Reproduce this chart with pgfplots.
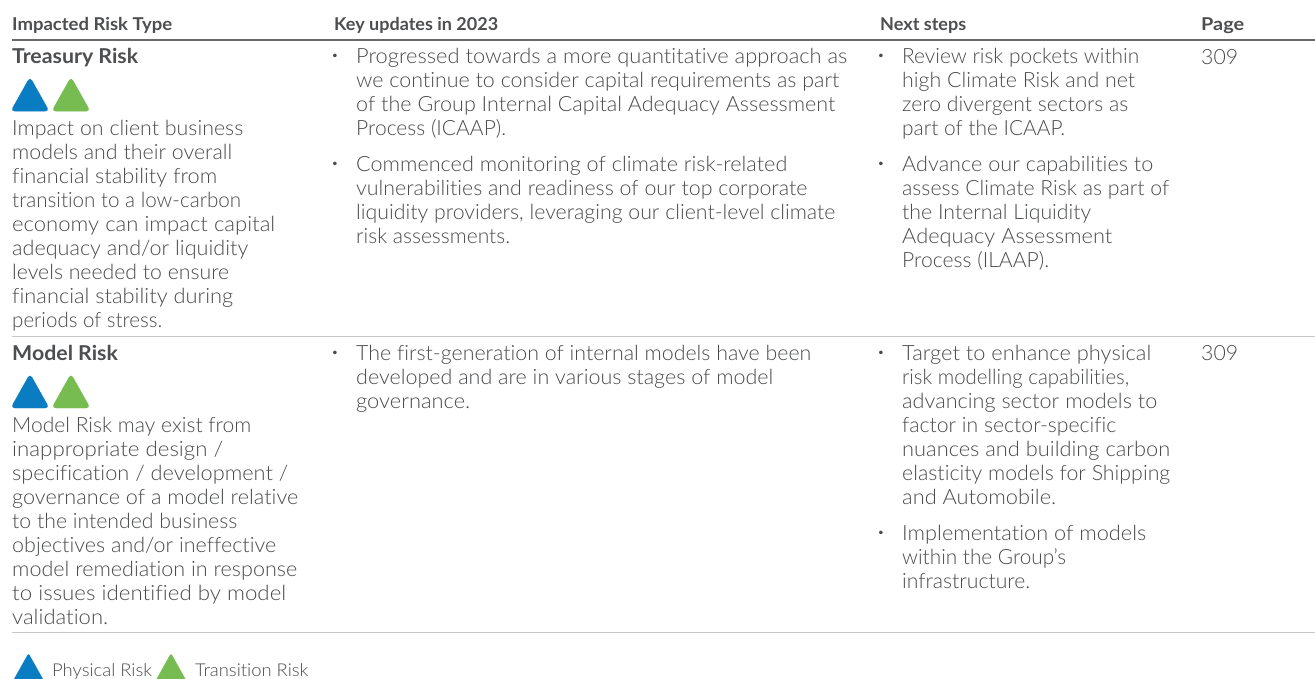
\documentclass[border=0pt]{standalone}
\usepackage{pgfplots}
\pgfplotsset{compat=1.18}
\usepackage{graphicx}
\usepackage{fontspec}
\setmainfont{Lato}[UprightFont=* Light, BoldFont=* Bold, FakeStretch=1.04, RawFeature=-liga]
\definecolor{body}{HTML}{4A4B4D}
\definecolor{head}{HTML}{4D4E50}
\definecolor{phys}{HTML}{0A7CC1}
\definecolor{trans}{HTML}{77BC50}
\newcommand\T[4]{\node[anchor=base west,inner sep=0pt,text=body,font=\fontsize{21}{24}\selectfont] at (axis cs:#1,#2) {\resizebox{\dimexpr #4pt-#1pt\relax}{\height}{#3}};}
\newcommand\HH[3]{\node[anchor=base west,inner sep=0pt,text=head,font=\fontsize{17.7}{20}\selectfont\bfseries] at (axis cs:#1,30.5) {\resizebox{\dimexpr #3pt-#1pt\relax}{\height}{#2}};}
\newcommand\BB[2]{\node[anchor=base west,inner sep=0pt,text=head,font=\fontsize{20.5}{24}\selectfont\bfseries] at (axis cs:12,#2) {#1};}
\newcommand\D[2]{\node[anchor=center,inner sep=0pt,text=body,font=\fontsize{12}{12}\selectfont] at (axis cs:#1,#2) {•};}
\newcommand\LL[2]{\node[anchor=base west,inner sep=0pt,text=body,font=\fontsize{17.7}{20}\selectfont] at (axis cs:#1,676) {#2};}
\begin{document}
\begin{tikzpicture}
\begin{axis}[scale only axis,width=1315pt,height=679pt,xmin=0,xmax=1315,ymin=0,ymax=679,y dir=reverse,
  axis lines=none,ticks=none,clip=true]
\addplot[draw=white,fill=white,forget plot] coordinates {(0,0)(1315,0)(1315,679)(0,679)} -- cycle;
\addplot[line width=2pt,color=head!85] coordinates {(12,40)(1315,40)};
\addplot[line width=1pt,color=black!22] coordinates {(12,336)(1315,336)};
\addplot[line width=1pt,color=black!22] coordinates {(12,632)(1315,632)};
% triangles
\addplot[phys,fill=phys,line width=0.3pt,rounded corners=4pt] coordinates {(30,111.2)(49.2,111.2)(30,77)(10.8,111.2)} -- cycle;
\addplot[trans,fill=trans,line width=0.3pt,rounded corners=4pt] coordinates {(71,111.2)(90.2,111.2)(71,77)(51.8,111.2)} -- cycle;
\addplot[phys,fill=phys,line width=0.3pt,rounded corners=4pt] coordinates {(30,408)(49.2,408)(30,373.8)(10.8,408)} -- cycle;
\addplot[trans,fill=trans,line width=0.3pt,rounded corners=4pt] coordinates {(71,408)(90.2,408)(71,373.8)(51.8,408)} -- cycle;
\addplot[phys,fill=phys,line width=0.3pt,rounded corners=2pt] coordinates {(28.5,692)(50,692)(28.5,653.5)(7,692)} -- cycle;
\addplot[trans,fill=trans,line width=0.3pt,rounded corners=2pt] coordinates {(171,692)(192.5,692)(171,653.5)(149.5,692)} -- cycle;
% header
\HH{12}{Impacted Risk Type}{172}
\HH{334}{Key updates in 2023}{498}
\HH{880}{Next steps}{966}
\HH{1201}{Page}{1244}
% row 1
\BB{Treasury Risk}{63.5}
\T{12}{135.5}{Impact on client business}{243}
\T{12}{159.5}{models and their overall}{232}
\T{12}{183.5}{financial stability from}{217}
\T{12}{207.5}{transition to a low-carbon}{241}
\T{12}{231.5}{economy can impact capital}{275}
\T{12}{255.5}{adequacy and/or liquidity}{248}
\T{12}{279.5}{levels needed to ensure}{229}
\T{12}{303.5}{financial stability during}{233}
\T{12}{327.5}{periods of stress.}{162}
\D{335}{57}
\T{356}{63.5}{Progressed towards a more quantitative approach as}{847}
\T{356}{87.5}{we continue to consider capital requirements as part}{839}
\T{356}{111.5}{of the Group Internal Capital Adequacy Assessment}{835}
\T{356}{135.5}{Process (ICAAP).}{506}
\D{335}{165}
\T{356}{171.5}{Commenced monitoring of climate risk-related}{787}
\T{356}{195.5}{vulnerabilities and readiness of our top corporate}{807}
\T{356}{219.5}{liquidity providers, leveraging our client-level climate}{835}
\T{356}{243.5}{risk assessments.}{510}
\D{881}{57}
\T{902}{63.5}{Review risk pockets within}{1139}
\T{902}{87.5}{high Climate Risk and net}{1135}
\T{902}{111.5}{zero divergent sectors as}{1128}
\T{902}{135.5}{part of the ICAAP.}{1065}
\D{881}{165}
\T{902}{171.5}{Advance our capabilities to}{1153}
\T{902}{195.5}{assess Climate Risk as part of}{1169}
\T{902}{219.5}{the Internal Liquidity}{1091}
\T{902}{243.5}{Adequacy Assessment}{1112}
\T{902}{267.5}{Process (ILAAP).}{1049}
\T{1201}{64.5}{309}{1238}
% row 2
\BB{Model Risk}{360}
\T{12}{432}{Model Risk may exist from}{251}
\T{12}{456}{inappropriate design /}{223}
\T{12}{480}{specification / development /}{288}
\T{12}{504}{governance of a model relative}{298}
\T{12}{528}{to the intended business}{237}
\T{12}{552}{objectives and/or ineffective}{276}
\T{12}{576}{model remediation in response}{297}
\T{12}{600}{to issues identified by model}{286}
\T{12}{624}{validation.}{108}
\D{335}{354}
\T{356}{360}{The first-generation of internal models have been}{811}
\T{356}{384}{developed and are in various stages of model}{773}
\T{356}{408}{governance.}{470}
\D{881}{354}
\T{902}{360}{Target to enhance physical}{1151}
\T{902}{384}{risk modelling capabilities,}{1129}
\T{902}{408}{advancing sector models to}{1157}
\T{902}{432}{factor in sector-specific}{1116}
\T{902}{456}{nuances and building carbon}{1170}
\T{902}{480}{elasticity models for Shipping}{1170}
\T{902}{504}{and Automobile.}{1056}
\D{881}{534}
\T{902}{540}{Implementation of models}{1146}
\T{902}{564}{within the Group’s}{1066}
\T{902}{588}{infrastructure.}{1030}
\T{1201}{360.5}{309}{1238}
% legend
\LL{52}{Physical Risk}
\LL{195}{Transition Risk}
\end{axis}
\end{tikzpicture}
\end{document}
